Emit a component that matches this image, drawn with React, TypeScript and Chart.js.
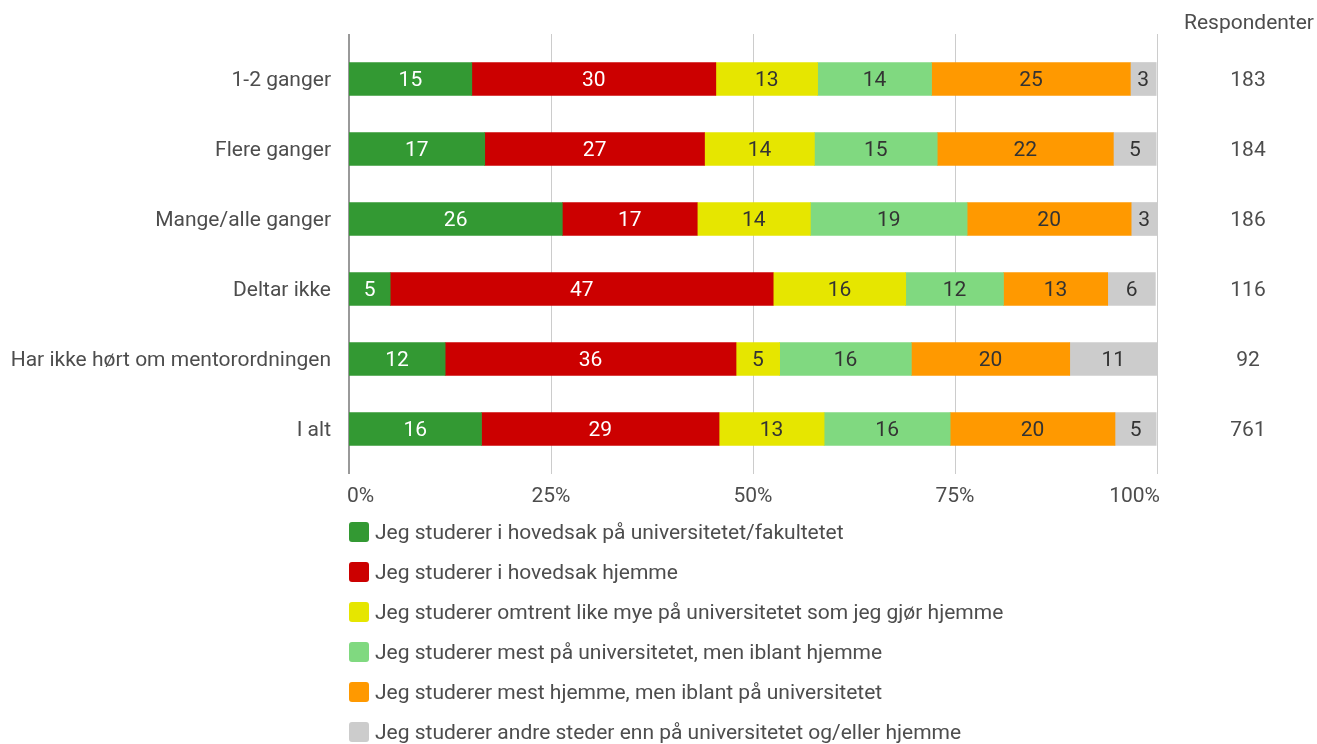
import React, { useEffect, useRef } from "react";
import { Chart, registerables } from "chart.js";

Chart.register(...registerables);

const categories = [
  "1-2 ganger",
  "Flere ganger",
  "Mange/alle ganger",
  "Deltar ikke",
  "Har ikke hørt om mentorordningen",
  "I alt",
];
const respondents = [183, 184, 186, 116, 92, 761];

const seriesNames = [
  "Jeg studerer i hovedsak på universitetet/fakultetet",
  "Jeg studerer i hovedsak hjemme",
  "Jeg studerer omtrent like mye på universitetet som jeg gjør hjemme",
  "Jeg studerer mest på universitetet, men iblant hjemme",
  "Jeg studerer mest hjemme, men iblant på universitetet",
  "Jeg studerer andre steder enn på universitetet og/eller hjemme",
];
const universitet = [15.2, 16.8, 26.4, 5.1, 11.9, 16.4];
const hjemme = [30.2, 27.2, 16.7, 47.4, 36.0, 29.4];
const likeMye = [12.6, 13.6, 14.0, 16.4, 5.4, 13.0];
const mestUni = [14.1, 15.2, 19.4, 12.1, 16.3, 15.6];
const mestHjemme = [24.6, 21.8, 20.3, 12.9, 19.6, 20.4];
const andre = [3.2, 5.3, 3.2, 5.9, 10.8, 5.1];
const xTicks = [0, 25, 50, 75, 100];

const colors = ["#339933", "#cc0000", "#e6e600", "#80d980", "#ff9900", "#cccccc"];
const labelColors = ["#ffffff", "#ffffff", "#333333", "#333333", "#333333", "#333333"];
const FONT = "Roboto, 'Noto Sans', sans-serif";
const TEXT = "#4d4d4d";

const drawPlugin = {
  id: "customDraw",
  beforeDatasetsDraw(chart: any) {
    const ctx = chart.ctx;
    const x = chart.scales.x;
    const area = chart.chartArea;
    ctx.save();
    xTicks.forEach((t) => {
      const px = Math.round(x.getPixelForValue(t)) + 0.5;
      ctx.strokeStyle = t === 0 ? "#999999" : "#cccccc";
      ctx.lineWidth = t === 0 ? 2 : 1;
      ctx.beginPath();
      ctx.moveTo(t === 0 ? px - 0.5 : px, area.top - 10);
      ctx.lineTo(t === 0 ? px - 0.5 : px, area.bottom + 10);
      ctx.stroke();
    });
    ctx.restore();
  },
  afterDatasetsDraw(chart: any) {
    const ctx = chart.ctx;
    const x = chart.scales.x;
    const y = chart.scales.y;
    const area = chart.chartArea;
    ctx.save();
    ctx.font = `21px ${FONT}`;
    ctx.textBaseline = "middle";
    // segment labels
    chart.data.datasets.forEach((ds: any, di: number) => {
      const meta = chart.getDatasetMeta(di);
      meta.data.forEach((el: any, i: number) => {
        const v = ds.data[i];
        const cx = (el.x + el.base) / 2;
        ctx.fillStyle = labelColors[di];
        ctx.textAlign = "center";
        ctx.fillText(String(Math.round(v)), cx, el.y + 2);
      });
    });
    // category labels
    ctx.fillStyle = TEXT;
    categories.forEach((c, i) => {
      const py = y.getPixelForValue(i);
      ctx.textAlign = "right";
      ctx.fillText(c, area.left - 18, py + 2);
      ctx.textAlign = "center";
      ctx.fillText(String(respondents[i]), 1248, py + 2);
    });
    ctx.textAlign = "center";
    ctx.fillText("Respondenter", 1249, 24);
    // x tick labels
    xTicks.forEach((t, i) => {
      const px = x.getPixelForValue(t);
      if (i === 0) {
        ctx.textAlign = "left";
        ctx.fillText(t + "%", px - 2, area.bottom + 33);
      } else if (i === xTicks.length - 1) {
        ctx.textAlign = "right";
        ctx.fillText(t + "%", px + 3, area.bottom + 33);
      } else {
        ctx.textAlign = "center";
        ctx.fillText(t + "%", px, area.bottom + 33);
      }
    });
    // legend
    seriesNames.forEach((n, i) => {
      const cy = 532 + i * 40;
      ctx.fillStyle = colors[i];
      const bx = area.left, by = cy - 10, s = 20, r = 3;
      ctx.beginPath();
      ctx.moveTo(bx + r, by);
      ctx.lineTo(bx + s - r, by);
      ctx.quadraticCurveTo(bx + s, by, bx + s, by + r);
      ctx.lineTo(bx + s, by + s - r);
      ctx.quadraticCurveTo(bx + s, by + s, bx + s - r, by + s);
      ctx.lineTo(bx + r, by + s);
      ctx.quadraticCurveTo(bx, by + s, bx, by + s - r);
      ctx.lineTo(bx, by + r);
      ctx.quadraticCurveTo(bx, by, bx + r, by);
      ctx.fill();
      ctx.fillStyle = TEXT;
      ctx.textAlign = "left";
      ctx.fillText(n, area.left + 26, cy + 2);
    });
    ctx.restore();
  },
};

export default function App() {
  const ref = useRef<HTMLCanvasElement>(null);
  useEffect(() => {
    const series = [universitet, hjemme, likeMye, mestUni, mestHjemme, andre];
    const chart = new Chart(ref.current as HTMLCanvasElement, {
      type: "bar",
      data: {
        labels: categories,
        datasets: series.map((d, i) => ({
          label: seriesNames[i],
          data: d,
          backgroundColor: colors[i],
          borderWidth: 0,
          barThickness: 33,
        })),
      },
      options: {
        indexAxis: "y",
        animation: false,
        responsive: false,
        maintainAspectRatio: false,
        layout: { padding: { left: 349, right: 160, top: 44, bottom: 280 } },
        scales: {
          x: { stacked: true, min: 0, max: 100, display: false },
          y: { stacked: true, display: false },
        },
        plugins: { legend: { display: false }, tooltip: { enabled: false } },
      },
      plugins: [drawPlugin],
    });
    return () => chart.destroy();
  }, []);
  return (
    <div style={{ position: "fixed", left: 0, top: 0, width: 1317, height: 744, background: "#fff" }}>
      <canvas ref={ref} width={1317} height={744} style={{ width: 1317, height: 744 }} />
    </div>
  );
}
